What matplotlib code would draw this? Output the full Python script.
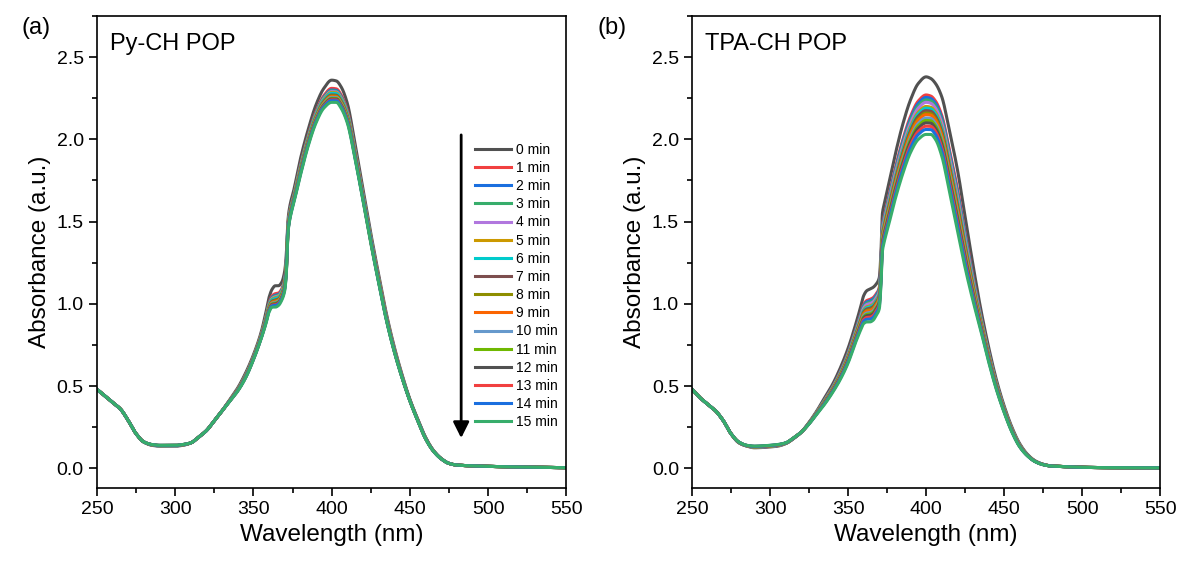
import numpy as np
import matplotlib
matplotlib.use("Agg")
import matplotlib.pyplot as plt
from matplotlib.ticker import MultipleLocator

plt.rcParams['font.family'] = ['Liberation Sans', 'DejaVu Sans']

minutes = list(range(16))
labels = ['%d min' % m for m in minutes]
colors = ['#515151', '#F14040', '#1A6FDF', '#37AD6B', '#B177DE', '#CC9900',
          '#00CBCC', '#7D4E4E', '#8E8E00', '#FB6501', '#6699CC', '#6FB802',
          '#515151', '#F14040', '#1A6FDF', '#37AD6B']

# (a) Py-CH POP
wl_a = [250, 255, 260, 265, 270, 275, 280, 285, 290, 300, 305, 310, 315, 320,
        325, 330, 335, 340, 345, 350, 355, 358, 360, 362, 364, 366, 368, 370,
        371, 372, 373, 376, 380, 385, 390, 395, 400, 403, 406, 410, 415, 420,
        425, 430, 435, 440, 445, 450, 455, 460, 465, 470, 475, 480, 490, 500,
        520, 550]
abs_a_0 = [0.48, 0.44, 0.40, 0.36, 0.29, 0.21, 0.16, 0.14, 0.135, 0.135, 0.14,
           0.155, 0.19, 0.23, 0.29, 0.35, 0.42, 0.49, 0.58, 0.69, 0.83, 0.95,
           1.04, 1.09, 1.11, 1.11, 1.13, 1.20, 1.30, 1.50, 1.58, 1.70, 1.88,
           2.06, 2.21, 2.31, 2.36, 2.355, 2.32, 2.22, 1.97, 1.70, 1.43, 1.18,
           0.94, 0.74, 0.57, 0.42, 0.30, 0.19, 0.11, 0.06, 0.03, 0.02, 0.015,
           0.012, 0.008, 0.004]
abs_a_15 = [0.48, 0.44, 0.40, 0.36, 0.29, 0.21, 0.16, 0.145, 0.14, 0.14, 0.145,
            0.155, 0.19, 0.23, 0.29, 0.35, 0.41, 0.47, 0.55, 0.66, 0.79, 0.88,
            0.95, 0.98, 0.98, 0.99, 1.02, 1.08, 1.18, 1.42, 1.50, 1.62, 1.78,
            1.96, 2.10, 2.19, 2.225, 2.225, 2.19, 2.10, 1.88, 1.63, 1.37, 1.13,
            0.90, 0.71, 0.55, 0.41, 0.29, 0.18, 0.105, 0.058, 0.03, 0.02, 0.015,
            0.012, 0.008, 0.004]
peak_a = [2.36, 2.31, 2.30, 2.295, 2.29, 2.285, 2.28, 2.27, 2.265, 2.26,
          2.255, 2.25, 2.245, 2.24, 2.235, 2.225]

# (b) TPA-CH POP
wl_b = wl_a
abs_b_0 = [0.48, 0.43, 0.39, 0.35, 0.29, 0.21, 0.155, 0.135, 0.125, 0.13, 0.135,
           0.15, 0.18, 0.22, 0.28, 0.35, 0.43, 0.51, 0.61, 0.73, 0.88, 0.98,
           1.05, 1.08, 1.09, 1.10, 1.12, 1.16, 1.30, 1.55, 1.60, 1.73, 1.90,
           2.09, 2.24, 2.34, 2.38, 2.37, 2.34, 2.26, 2.05, 1.82, 1.53, 1.24,
           0.97, 0.74, 0.54, 0.38, 0.25, 0.15, 0.085, 0.045, 0.025, 0.015, 0.01,
           0.006, 0.004, 0.003]
abs_b_15 = [0.48, 0.43, 0.39, 0.35, 0.29, 0.21, 0.16, 0.14, 0.135, 0.14, 0.145,
            0.155, 0.185, 0.22, 0.27, 0.33, 0.39, 0.46, 0.54, 0.64, 0.77, 0.84,
            0.88, 0.89, 0.89, 0.90, 0.93, 0.97, 1.10, 1.32, 1.37, 1.48, 1.63,
            1.79, 1.92, 2.00, 2.03, 2.03, 2.00, 1.90, 1.68, 1.45, 1.22, 1.02,
            0.84, 0.65, 0.48, 0.34, 0.22, 0.13, 0.075, 0.04, 0.022, 0.014, 0.01,
            0.006, 0.004, 0.003]
peak_b = [2.38, 2.27, 2.255, 2.24, 2.225, 2.20, 2.19, 2.175, 2.16, 2.15,
          2.13, 2.115, 2.10, 2.08, 2.06, 2.03]


def pchip(x, y, xs):
    # monotone cubic through the read points, only to draw them smoothly
    x = np.asarray(x, float)
    y = np.asarray(y, float)
    h = np.diff(x)
    d = np.diff(y) / h
    m = np.zeros_like(y)
    for k in range(1, len(x) - 1):
        if d[k - 1] * d[k] > 0:
            w1 = 2 * h[k] + h[k - 1]
            w2 = h[k] + 2 * h[k - 1]
            m[k] = (w1 + w2) / (w1 / d[k - 1] + w2 / d[k])
    m[0] = d[0]
    m[-1] = d[-1]
    idx = np.clip(np.searchsorted(x, xs) - 1, 0, len(x) - 2)
    t = (xs - x[idx]) / h[idx]
    h00 = 2 * t**3 - 3 * t**2 + 1
    h10 = t**3 - 2 * t**2 + t
    h01 = -2 * t**3 + 3 * t**2
    h11 = t**3 - t**2
    return h00 * y[idx] + h10 * h[idx] * m[idx] + h01 * y[idx + 1] + h11 * h[idx] * m[idx + 1]


def draw(ax, wl, a0, a15, peaks, title):
    a0 = np.array(a0)
    a15 = np.array(a15)
    xs = np.linspace(wl[0], wl[-1], 1501)
    for i in minutes:
        f = (peaks[0] - peaks[i]) / (peaks[0] - peaks[-1])
        ys = pchip(wl, a0 + (a15 - a0) * f, xs)
        ax.plot(xs, ys, color=colors[i], lw=2.2, label=labels[i])
    ax.set_xlim(250, 550)
    ax.set_ylim(-0.12, 2.75)
    ax.xaxis.set_major_locator(MultipleLocator(50))
    ax.xaxis.set_minor_locator(MultipleLocator(25))
    ax.yaxis.set_major_locator(MultipleLocator(0.5))
    ax.yaxis.set_minor_locator(MultipleLocator(0.25))
    ax.tick_params(which='major', direction='out', length=6, width=1.2, labelsize=14)
    ax.tick_params(which='minor', direction='out', length=3.5, width=1.2)
    for s in ax.spines.values():
        s.set_linewidth(1.2)
    ax.set_xlabel('Wavelength (nm)', fontsize=17.5)
    ax.set_ylabel('Absorbance (a.u.)', fontsize=17.5)
    ax.text(0.028, 0.94, title, transform=ax.transAxes, fontsize=17, va='center')


fig = plt.figure(figsize=(11.79, 5.61), dpi=100)
ax1 = fig.add_axes([0.0823, 0.130, 0.398, 0.8415])
ax2 = fig.add_axes([0.587, 0.130, 0.397, 0.8415])

draw(ax1, wl_a, abs_a_0, abs_a_15, peak_a, 'Py-CH POP')
draw(ax2, wl_b, abs_b_0, abs_b_15, peak_b, 'TPA-CH POP')

ax1.legend(loc='upper left', bbox_to_anchor=(0.785, 0.752), frameon=False,
           fontsize=10, handlelength=2.6, handletextpad=0.35, labelspacing=0.3,
           borderpad=0.2)
ax1.annotate('', xy=(0.776, 0.1), xytext=(0.776, 0.754), xycoords='axes fraction',
             arrowprops=dict(arrowstyle='-|>', color='black', lw=2,
                             mutation_scale=24))

fig.text(0.018, 0.95, '(a)', fontsize=17, va='center')
fig.text(0.507, 0.95, '(b)', fontsize=17, va='center')

fig.savefig('out.png', dpi=100)
